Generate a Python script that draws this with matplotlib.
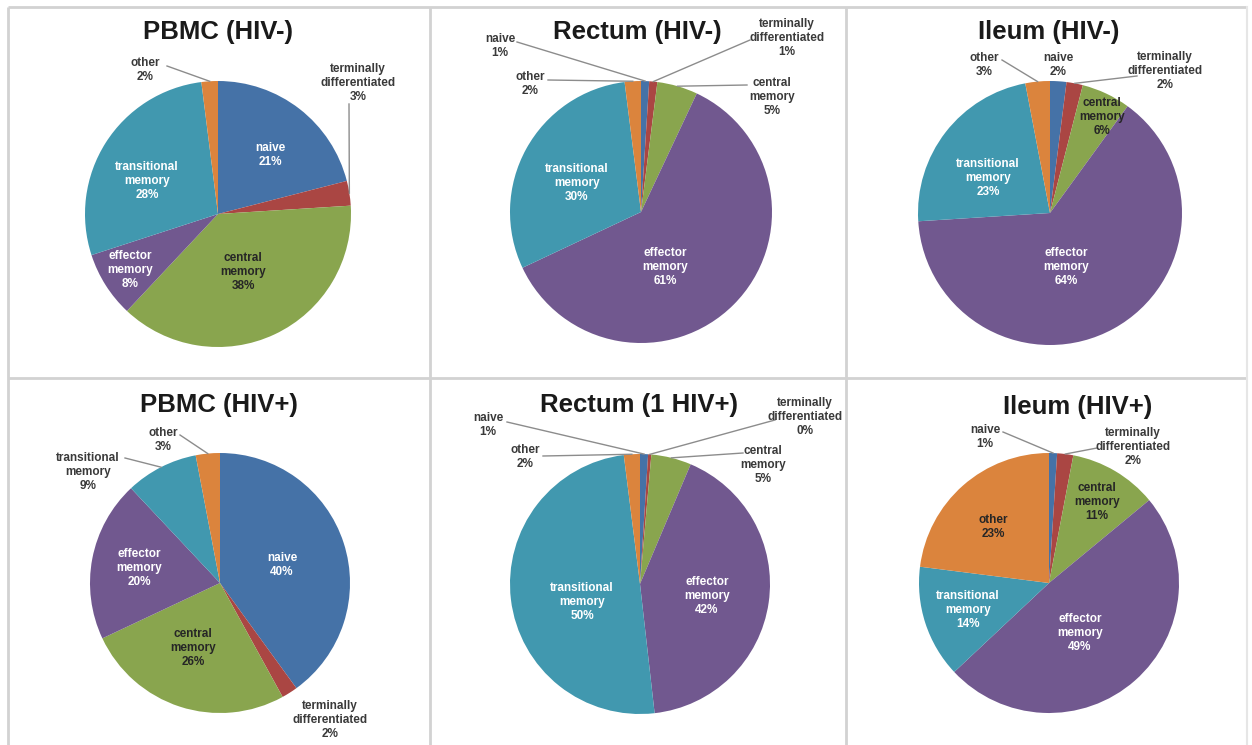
import matplotlib
matplotlib.use("Agg")
import matplotlib.pyplot as plt
import numpy as np

plt.rcParams['font.family'] = ['Liberation Sans', 'DejaVu Sans']

# ---------------- data ----------------
categories = ['naive', 'terminally\ndifferentiated', 'central\nmemory',
              'effector\nmemory', 'transitional\nmemory', 'other']
titles = ['PBMC (HIV-)', 'Rectum (HIV-)', 'Ileum (HIV-)',
          'PBMC (HIV+)', 'Rectum (1 HIV+)', 'Ileum (HIV+)']
pbmc_neg = [21, 3, 38, 8, 28, 2]
rectum_neg = [1, 1, 5, 61, 30, 2]
ileum_neg = [2, 2, 6, 64, 23, 3]
pbmc_pos = [40, 2, 26, 20, 9, 3]
rectum_pos = [1, 0.4, 5, 42, 50, 2]
ileum_pos = [1, 2, 11, 49, 14, 23]
series = [pbmc_neg, rectum_neg, ileum_neg, pbmc_pos, rectum_pos, ileum_pos]

colors = ['#4572A7', '#AA4643', '#89A54E', '#71588F', '#4198AF', '#DB843D']

# ---------------- layout (pixels, y from top) ----------------
W, H = 1252, 745
centers = [(218, 214), (641, 212), (1050, 213), (220, 583), (640, 584), (1049, 583)]
radii = [133, 131, 132, 130, 130, 130]
title_pos = [(218, 32), (637, 32), (1049, 32), (219, 405), (639, 405), (1078, 407)]

# label text centre, style ('w' white inside, 'd' dark inside, 'o' outside), leader start
label_pos = [
    [(270, 155), (358, 83), (243, 272), (130, 270), (147, 181), (145, 70)],
    [(500, 46), (787, 38), (772, 97), (665, 267), (577, 183), (530, 84)],
    [(1058, 65), (1165, 71), (1102, 117), (1066, 267), (988, 178), (984, 65)],
    [(282, 565), (330, 720), (193, 648), (139, 568), (88, 472), (163, 440)],
    [(488, 425), (805, 417), (763, 465), (707, 596), (582, 602), (525, 457)],
    [(985, 437), (1133, 447), (1097, 502), (1080, 633), (968, 610), (993, 527)],
]
label_style = [
    ['w', 'o', 'd', 'w', 'w', 'o'],
    ['o', 'o', 'o', 'w', 'w', 'o'],
    ['o', 'o', 'd', 'w', 'w', 'o'],
    ['w', 'o', 'd', 'w', 'o', 'o'],
    ['o', 'o', 'o', 'w', 'w', 'o'],
    ['o', 'o', 'd', 'w', 'w', 'd'],
]
leader_start = [
    [None, (349, 104), None, None, None, (167, 66)],
    [(517, 42), (750, 40), (747, 85), None, None, (548, 80)],
    [None, (1137, 76), None, None, None, (1002, 60)],
    [None, None, None, None, (125, 458), (180, 435)],
    [(507, 422), (775, 420), (743, 453), None, None, (543, 456)],
    [(1003, 432), (1097, 448), None, None, None, None],
]

fig = plt.figure(figsize=(W / 100, H / 100), dpi=100)
ax = fig.add_axes([0, 0, 1, 1])


def Y(y):
    return H - y


# panel grid lines
grid_col = '#d2d2d2'
for yy in (7, 378):
    ax.plot([8, 1247], [Y(yy), Y(yy)], color=grid_col, lw=2, solid_capstyle='butt', zorder=1)
for xx in (8, 430, 846):
    ax.plot([xx, xx], [Y(7), Y(745)], color=grid_col, lw=2, solid_capstyle='butt', zorder=1)
ax.plot([1247, 1247], [Y(7), Y(745)], color='#e6e6e6', lw=1.5, zorder=1)

text_colors = {'w': 'white', 'd': '#262626', 'o': '#3a3a3a'}

for i, vals in enumerate(series):
    cx, cy = centers[i]
    r = radii[i]
    wedges, _ = ax.pie(vals, colors=colors, startangle=90, counterclock=False,
                       center=(cx, Y(cy)), radius=r, frame=True,
                       wedgeprops=dict(linewidth=0))
    for w in wedges:
        w.set_zorder(2)
    ax.text(title_pos[i][0], Y(title_pos[i][1]), titles[i], ha='center', va='center',
            fontsize=18.5, fontweight='bold', color='#1a1a1a', zorder=5)
    for j, cat in enumerate(categories):
        lx, ly = label_pos[i][j]
        st = label_style[i][j]
        txt = f"{cat}\n{vals[j]:.0f}%"
        ax.text(lx, Y(ly), txt, ha='center', va='center', fontsize=8.5,
                fontweight='bold', color=text_colors[st], linespacing=1.2, zorder=6)
        ls = leader_start[i][j]
        if ls is not None:
            w = wedges[j]
            mid = np.deg2rad((w.theta1 + w.theta2) / 2)
            ex, ey = cx + r * np.cos(mid), Y(cy) + r * np.sin(mid)
            ax.plot([ls[0], ex], [Y(ls[1]), ey], color='#8c8c8c', lw=1, zorder=4)

ax.set_xlim(0, W)
ax.set_ylim(0, H)
ax.set_aspect('equal')
ax.axis('off')
fig.savefig('out.png', dpi=100)
